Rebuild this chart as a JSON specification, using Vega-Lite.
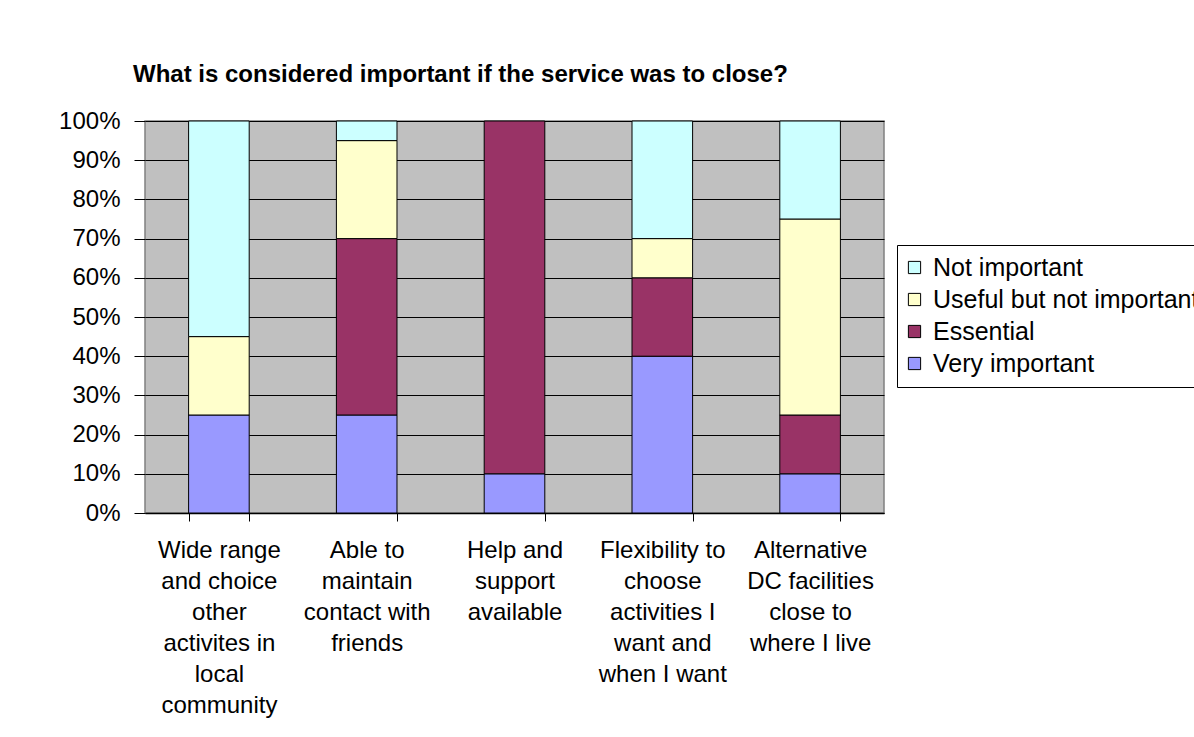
{
  "$schema": "https://vega.github.io/schema/vega-lite/v6.json",
  "width": 739,
  "height": 392,
  "padding": {"left": 58, "top": 63, "right": 5, "bottom": 5},
  "background": "white",
  "title": {
    "text": "What is considered important if the service was to close?",
    "anchor": "start",
    "frame": "group",
    "dx": -12,
    "offset": 22,
    "font": "Liberation Sans",
    "fontSize": 24,
    "fontWeight": "bold",
    "color": "black"
  },
  "data": {
    "values": [
      {"category": "Wide range\nand choice\nother\nactivites in\nlocal\ncommunity", "response": "Very important", "level": 1, "share": 0.25},
      {"category": "Wide range\nand choice\nother\nactivites in\nlocal\ncommunity", "response": "Useful but not important", "level": 3, "share": 0.20},
      {"category": "Wide range\nand choice\nother\nactivites in\nlocal\ncommunity", "response": "Not important", "level": 4, "share": 0.55},
      {"category": "Able to\nmaintain\ncontact with\nfriends", "response": "Very important", "level": 1, "share": 0.25},
      {"category": "Able to\nmaintain\ncontact with\nfriends", "response": "Essential", "level": 2, "share": 0.45},
      {"category": "Able to\nmaintain\ncontact with\nfriends", "response": "Useful but not important", "level": 3, "share": 0.25},
      {"category": "Able to\nmaintain\ncontact with\nfriends", "response": "Not important", "level": 4, "share": 0.05},
      {"category": "Help and\nsupport\navailable", "response": "Very important", "level": 1, "share": 0.10},
      {"category": "Help and\nsupport\navailable", "response": "Essential", "level": 2, "share": 0.90},
      {"category": "Flexibility to\nchoose\nactivities I\nwant and\nwhen I want", "response": "Very important", "level": 1, "share": 0.40},
      {"category": "Flexibility to\nchoose\nactivities I\nwant and\nwhen I want", "response": "Essential", "level": 2, "share": 0.20},
      {"category": "Flexibility to\nchoose\nactivities I\nwant and\nwhen I want", "response": "Useful but not important", "level": 3, "share": 0.10},
      {"category": "Flexibility to\nchoose\nactivities I\nwant and\nwhen I want", "response": "Not important", "level": 4, "share": 0.30},
      {"category": "Alternative\nDC facilities\nclose to\nwhere I live", "response": "Very important", "level": 1, "share": 0.10},
      {"category": "Alternative\nDC facilities\nclose to\nwhere I live", "response": "Essential", "level": 2, "share": 0.15},
      {"category": "Alternative\nDC facilities\nclose to\nwhere I live", "response": "Useful but not important", "level": 3, "share": 0.50},
      {"category": "Alternative\nDC facilities\nclose to\nwhere I live", "response": "Not important", "level": 4, "share": 0.25}
    ]
  },
  "mark": {"type": "bar", "stroke": "black", "strokeWidth": 1},
  "encoding": {
    "x": {
      "field": "category",
      "type": "nominal",
      "sort": null,
      "scale": {"paddingInner": 0.59, "paddingOuter": 0.295},
      "axis": {
        "title": null,
        "labelAngle": 0,
        "labelExpr": "isString(datum.value) ? split(datum.value, '\\n') : ''",
        "labelFont": "Liberation Sans",
        "labelFontSize": 24,
        "labelLineHeight": 31,
        "labelColor": "black",
        "labelPadding": 17,
        "labelBaseline": "top",
        "tickBand": "extent",
        "tickSize": 8,
        "tickColor": "black",
        "domainColor": "black",
        "domainWidth": 1.5,
        "grid": false
      }
    },
    "y": {
      "field": "share",
      "type": "quantitative",
      "stack": "zero",
      "scale": {"domain": [0, 1], "nice": false},
      "axis": {
        "title": null,
        "values": [0, 0.1, 0.2, 0.3, 0.4, 0.5, 0.6, 0.7, 0.8, 0.9, 1],
        "format": ".0%",
        "labelFont": "Liberation Sans",
        "labelFontSize": 24,
        "labelColor": "black",
        "labelPadding": 14,
        "tickSize": 11,
        "tickColor": "black",
        "domain": false,
        "grid": true,
        "gridColor": "black",
        "gridOpacity": 1,
        "gridWidth": 1
      }
    },
    "color": {
      "field": "response",
      "type": "nominal",
      "scale": {
        "domain": ["Not important", "Useful but not important", "Essential", "Very important"],
        "range": ["#CCFFFF", "#FFFFCC", "#993366", "#9999FF"]
      },
      "legend": {
        "title": null,
        "orient": "none",
        "legendX": 752,
        "legendY": 124,
        "strokeColor": "black",
        "fillColor": "white",
        "padding": 10,
        "symbolType": "square",
        "symbolSize": 150,
        "symbolStrokeColor": "black",
        "symbolStrokeWidth": 1,
        "symbolOpacity": 1,
        "symbolOffset": -5,
        "labelFont": "Liberation Sans",
        "labelFontSize": 25,
        "labelColor": "black",
        "labelLimit": 400,
        "labelOffset": 6,
        "rowPadding": 6
      }
    },
    "order": {"field": "level", "type": "quantitative", "sort": "ascending"}
  },
  "config": {
    "view": {"fill": "#C0C0C0", "stroke": "#808080", "strokeWidth": 1.5}
  }
}
